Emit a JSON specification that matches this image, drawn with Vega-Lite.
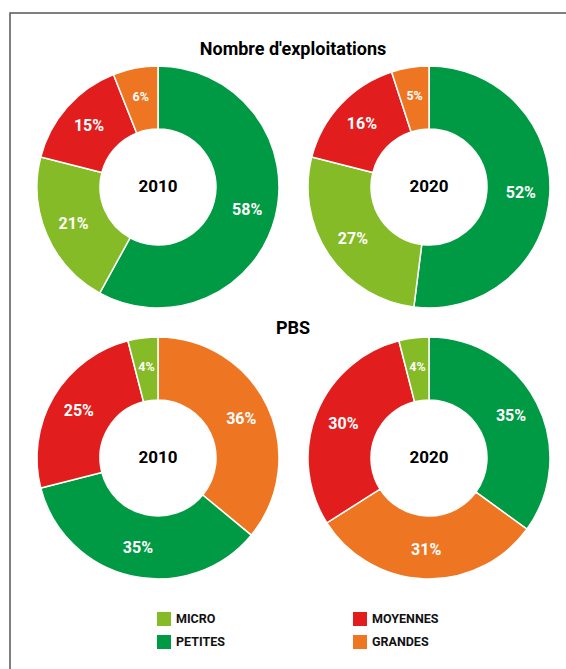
{
  "$schema": "https://vega.github.io/schema/vega-lite/v6.json",
  "width": 566,
  "height": 660,
  "autosize": {"type": "none"},
  "padding": {"left": 10, "top": 13, "right": -10, "bottom": -4},
  "background": "white",
  "data": {
    "values": [
      {"mesure": "Nombre d'exploitations", "annee": "2010", "categorie": "PETITES", "part": 0.58, "ordre": 1},
      {"mesure": "Nombre d'exploitations", "annee": "2010", "categorie": "MICRO", "part": 0.21, "ordre": 2},
      {"mesure": "Nombre d'exploitations", "annee": "2010", "categorie": "MOYENNES", "part": 0.15, "ordre": 3},
      {"mesure": "Nombre d'exploitations", "annee": "2010", "categorie": "GRANDES", "part": 0.06, "ordre": 4},
      {"mesure": "Nombre d'exploitations", "annee": "2020", "categorie": "PETITES", "part": 0.52, "ordre": 1},
      {"mesure": "Nombre d'exploitations", "annee": "2020", "categorie": "MICRO", "part": 0.27, "ordre": 2},
      {"mesure": "Nombre d'exploitations", "annee": "2020", "categorie": "MOYENNES", "part": 0.16, "ordre": 3},
      {"mesure": "Nombre d'exploitations", "annee": "2020", "categorie": "GRANDES", "part": 0.05, "ordre": 4},
      {"mesure": "PBS", "annee": "2010", "categorie": "GRANDES", "part": 0.36, "ordre": 1},
      {"mesure": "PBS", "annee": "2010", "categorie": "PETITES", "part": 0.35, "ordre": 2},
      {"mesure": "PBS", "annee": "2010", "categorie": "MOYENNES", "part": 0.25, "ordre": 3},
      {"mesure": "PBS", "annee": "2010", "categorie": "MICRO", "part": 0.04, "ordre": 4},
      {"mesure": "PBS", "annee": "2020", "categorie": "PETITES", "part": 0.35, "ordre": 1},
      {"mesure": "PBS", "annee": "2020", "categorie": "GRANDES", "part": 0.31, "ordre": 2},
      {"mesure": "PBS", "annee": "2020", "categorie": "MOYENNES", "part": 0.30, "ordre": 3},
      {"mesure": "PBS", "annee": "2020", "categorie": "MICRO", "part": 0.04, "ordre": 4}
    ]
  },
  "layer": [
    {
      "transform": [{"filter": "datum.mesure === \"Nombre d'exploitations\" && datum.annee === '2010'"}],
      "encoding": {
        "x": {"field": "annee", "type": "nominal", "scale": {"type": "point", "domain": ["2010", "2020"], "range": [148, 419], "padding": 0}, "axis": null},
        "y": {"field": "mesure", "type": "nominal", "scale": {"type": "point", "domain": ["Nombre d'exploitations", "PBS"], "range": [174, 445], "padding": 0}, "axis": null},
        "theta": {"field": "part", "type": "quantitative", "stack": true, "scale": {"domain": [0, 1]}},
        "order": {"field": "ordre", "type": "quantitative"}
      },
      "layer": [
        {"mark": {"type": "arc", "innerRadius": 58, "outerRadius": 121, "stroke": "white", "strokeWidth": 1.5},
         "encoding": {"color": {"field": "categorie", "type": "nominal", "scale": {"domain": ["MICRO", "PETITES", "MOYENNES", "GRANDES"], "range": ["#84bb26", "#009a44", "#e21d1d", "#ee7623"]}, "legend": {"orient": "none", "legendX": 147, "legendY": 599, "columns": 2, "gridAlign": "all", "columnPadding": 110, "rowPadding": 9, "title": null, "symbolType": "square", "symbolSize": 196, "symbolStrokeWidth": 0, "symbolOpacity": 1, "labelFont": "Liberation Sans Narrow, Roboto, sans-serif", "labelFontSize": 12.5, "labelFontWeight": "bold", "labelColor": "#111", "labelOffset": 5, "padding": 0}}}},
        {"mark": {"type": "text", "radius": 92, "font": "Liberation Sans Narrow, Roboto, sans-serif", "fontWeight": "bold", "fill": "white", "baseline": "middle", "align": "center"},
         "encoding": {"text": {"field": "part", "type": "quantitative", "format": ".0%"}, "size": {"condition": {"test": "datum.part < 0.1", "value": 12.5}, "value": 16}}}
      ]
    },
    {
      "transform": [{"filter": "datum.mesure === \"Nombre d'exploitations\" && datum.annee === '2020'"}],
      "encoding": {
        "x": {"field": "annee", "type": "nominal", "axis": null},
        "y": {"field": "mesure", "type": "nominal", "axis": null},
        "theta": {"field": "part", "type": "quantitative", "stack": true},
        "order": {"field": "ordre", "type": "quantitative"}
      },
      "layer": [
        {"mark": {"type": "arc", "innerRadius": 58, "outerRadius": 121, "stroke": "white", "strokeWidth": 1.5},
         "encoding": {"color": {"field": "categorie", "type": "nominal"}}},
        {"mark": {"type": "text", "radius": 92, "font": "Liberation Sans Narrow, Roboto, sans-serif", "fontWeight": "bold", "fill": "white", "baseline": "middle", "align": "center"},
         "encoding": {"text": {"field": "part", "type": "quantitative", "format": ".0%"}, "size": {"condition": {"test": "datum.part < 0.1", "value": 12.5}, "value": 16}}}
      ]
    },
    {
      "transform": [{"filter": "datum.mesure === 'PBS' && datum.annee === '2010'"}],
      "encoding": {
        "x": {"field": "annee", "type": "nominal", "axis": null},
        "y": {"field": "mesure", "type": "nominal", "axis": null},
        "theta": {"field": "part", "type": "quantitative", "stack": true},
        "order": {"field": "ordre", "type": "quantitative"}
      },
      "layer": [
        {"mark": {"type": "arc", "innerRadius": 58, "outerRadius": 121, "stroke": "white", "strokeWidth": 1.5},
         "encoding": {"color": {"field": "categorie", "type": "nominal"}}},
        {"mark": {"type": "text", "radius": 92, "font": "Liberation Sans Narrow, Roboto, sans-serif", "fontWeight": "bold", "fill": "white", "baseline": "middle", "align": "center"},
         "encoding": {"text": {"field": "part", "type": "quantitative", "format": ".0%"}, "size": {"condition": {"test": "datum.part < 0.1", "value": 12.5}, "value": 16}}}
      ]
    },
    {
      "transform": [{"filter": "datum.mesure === 'PBS' && datum.annee === '2020'"}],
      "encoding": {
        "x": {"field": "annee", "type": "nominal", "axis": null},
        "y": {"field": "mesure", "type": "nominal", "axis": null},
        "theta": {"field": "part", "type": "quantitative", "stack": true},
        "order": {"field": "ordre", "type": "quantitative"}
      },
      "layer": [
        {"mark": {"type": "arc", "innerRadius": 58, "outerRadius": 121, "stroke": "white", "strokeWidth": 1.5},
         "encoding": {"color": {"field": "categorie", "type": "nominal"}}},
        {"mark": {"type": "text", "radius": 92, "font": "Liberation Sans Narrow, Roboto, sans-serif", "fontWeight": "bold", "fill": "white", "baseline": "middle", "align": "center"},
         "encoding": {"text": {"field": "part", "type": "quantitative", "format": ".0%"}, "size": {"condition": {"test": "datum.part < 0.1", "value": 12.5}, "value": 16}}}
      ]
    },
    {
      "transform": [{"filter": "datum.ordre === 1"}],
      "mark": {"type": "text", "font": "Liberation Sans Narrow, Roboto, sans-serif", "fontSize": 17, "fontWeight": "bold", "fill": "black", "baseline": "middle", "align": "center"},
      "encoding": {
        "x": {"field": "annee", "type": "nominal", "axis": null},
        "y": {"field": "mesure", "type": "nominal", "axis": null},
        "text": {"field": "annee", "type": "nominal"}
      }
    },
    {
      "transform": [{"filter": "datum.ordre === 1 && datum.annee === '2010' && datum.mesure !== 'PBS'"}],
      "mark": {"type": "text", "font": "Liberation Sans Narrow, Roboto, sans-serif", "fontSize": 18, "fontWeight": "bold", "fill": "black", "baseline": "middle", "align": "center", "dy": -137},
      "encoding": {
        "y": {"field": "mesure", "type": "nominal", "axis": null},
        "text": {"field": "mesure", "type": "nominal"}
      }
    },
    {
      "transform": [{"filter": "datum.ordre === 1 && datum.annee === '2010' && datum.mesure === 'PBS'"}],
      "mark": {"type": "text", "font": "Liberation Sans Narrow, Roboto, sans-serif", "fontSize": 18, "fontWeight": "bold", "fill": "black", "baseline": "middle", "align": "center", "dy": -129},
      "encoding": {
        "y": {"field": "mesure", "type": "nominal", "axis": null},
        "text": {"field": "mesure", "type": "nominal"}
      }
    }
  ],
  "config": {
    "view": {"stroke": "#555555", "strokeWidth": 1.5}
  }
}
